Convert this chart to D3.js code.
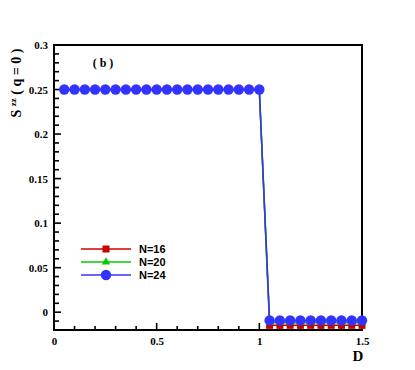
<!DOCTYPE html>
<html>
<head>
<meta charset="utf-8">
<script src="https://cdn.jsdelivr.net/npm/d3@7"></script>
<style>
  body { margin: 0; background: #fff; color: #000; }
  .tick-label { font-family: "Liberation Serif", "Times New Roman", serif; font-weight: bold; font-size: 11px; }
</style>
</head>
<body>
<div id="chart"></div>
<script>
// D values
var dLow = [0.05, 0.1, 0.15, 0.2, 0.25, 0.3, 0.35, 0.4, 0.45, 0.5, 0.55, 0.6, 0.65, 0.7, 0.75, 0.8, 0.85, 0.9, 0.95, 1.0];
var dHigh = [1.05, 1.1, 1.15, 1.2, 1.25, 1.3, 1.35, 1.4, 1.45, 1.5];

// S^zz(q=0) for each system size
var n16 = [0.25, 0.25, 0.25, 0.25, 0.25, 0.25, 0.25, 0.25, 0.25, 0.25, 0.25, 0.25, 0.25, 0.25, 0.25, 0.25, 0.25, 0.25, 0.25, 0.249,
           -0.0148, -0.0148, -0.0148, -0.0148, -0.0148, -0.0148, -0.0148, -0.0148, -0.0148, -0.0148];
var n20 = [0.25, 0.25, 0.25, 0.25, 0.25, 0.25, 0.25, 0.25, 0.25, 0.25, 0.25, 0.25, 0.25, 0.25, 0.25, 0.25, 0.25, 0.25, 0.25, 0.25,
           -0.0118, -0.0118, -0.0118, -0.0118, -0.0118, -0.0118, -0.0118, -0.0118, -0.0118, -0.0118];
var n24 = [0.25, 0.25, 0.25, 0.25, 0.25, 0.25, 0.25, 0.25, 0.25, 0.25, 0.25, 0.25, 0.25, 0.25, 0.25, 0.25, 0.25, 0.25, 0.25, 0.25,
           -0.0092, -0.0092, -0.0092, -0.0092, -0.0092, -0.0092, -0.0092, -0.0092, -0.0092, -0.0092];

var seriesNames = ["N=16", "N=20", "N=24"];
var seriesColors = ["#cc0000", "#00cc00", "#3333ff"];
var seriesMarkers = ["square", "triangle", "circle"];

var xTicks = [0, 0.5, 1, 1.5];
var xTickLabels = ["0", "0.5", "1", "1.5"];
var yTicks = [0, 0.05, 0.1, 0.15, 0.2, 0.25, 0.3];
var yTickLabels = ["0", "0.05", "0.1", "0.15", "0.2", "0.25", "0.3"];

var width = 415, height = 370;
var margin = { top: 45, right: 53, bottom: 40, left: 54 };
var w = width - margin.left - margin.right;
var h = height - margin.top - margin.bottom;

var svg = d3.select("#chart").append("svg").attr("width", width).attr("height", height);
var g = svg.append("g").attr("transform", "translate(" + margin.left + "," + margin.top + ")");

var x = d3.scaleLinear().domain([0, 1.5]).range([0, w]);
var y = d3.scaleLinear().domain([-0.02, 0.3]).range([h, 0]);

var dAll = dLow.concat(dHigh);
var allSeries = [n16, n20, n24].map(function (vals, i) {
    return {
        name: seriesNames[i],
        color: seriesColors[i],
        marker: seriesMarkers[i],
        points: vals.map(function (v, j) { return { d: dAll[j], v: v }; })
    };
});

// tick labels via d3 axes
g.append("g")
    .attr("transform", "translate(0," + h + ")")
    .call(d3.axisBottom(x).tickValues(xTicks).tickSize(0).tickPadding(7)
        .tickFormat(function (d, i) { return xTickLabels[i]; }))
    .call(function (a) {
        a.select(".domain").remove();
        a.selectAll("text").attr("class", "tick-label").attr("fill", "#000");
    });
g.append("g")
    .call(d3.axisLeft(y).tickValues(yTicks).tickSize(0).tickPadding(6)
        .tickFormat(function (d, i) { return yTickLabels[i]; }))
    .call(function (a) {
        a.select(".domain").remove();
        a.selectAll("text").attr("class", "tick-label").attr("fill", "#000");
    });

// inward ticks, minor and major
var xMinor = d3.range(0, 16).map(function (i) { return i / 10; });
var yMinor = d3.range(-2, 31).map(function (i) { return i / 100; });
function xLen(d) { return Math.abs(d * 2 - Math.round(d * 2)) < 1e-6 ? 7 : 4; }
function yLen(d) { return Math.abs(d * 20 - Math.round(d * 20)) < 1e-6 ? 7 : 5; }

g.selectAll(".xtick").data(xMinor).enter().append("rect")
    .attr("class", "xtick")
    .attr("x", function (d) { return x(d) - 0.8; }).attr("width", 1.6)
    .attr("y", function (d) { return h - xLen(d); }).attr("height", function (d) { return xLen(d); })
    .attr("fill", "#000");

g.selectAll(".ytick").data(yMinor).enter().append("rect")
    .attr("class", "ytick")
    .attr("x", 0).attr("width", function (d) { return yLen(d); })
    .attr("y", function (d) { return y(d) - 0.8; }).attr("height", 1.6)
    .attr("fill", "#000");

// frame
g.append("rect")
    .attr("x", 0).attr("y", 0).attr("width", w).attr("height", h)
    .attr("fill", "none").attr("stroke", "#000").attr("stroke-width", 2);

var line = d3.line().x(function (d) { return x(d.d); }).y(function (d) { return y(d.v); });

function drawMarker(sel, marker, color, cx, cy) {
    if (marker === "square") {
        sel.append("rect").attr("x", cx - 3.5).attr("y", cy - 3.5).attr("width", 7).attr("height", 7).attr("fill", color);
    } else if (marker === "triangle") {
        sel.append("path").attr("d", d3.symbol(d3.symbolTriangle, 30)()).attr("transform", "translate(" + cx + "," + cy + ")").attr("fill", color);
    } else {
        sel.append("circle").attr("cx", cx).attr("cy", cy).attr("r", 5.2).attr("fill", color);
    }
}

allSeries.forEach(function (s) {
    var sg = g.append("g");
    sg.append("path").datum(s.points)
        .attr("d", line).attr("fill", "none").attr("stroke", s.color).attr("stroke-width", 1.5);
    s.points.forEach(function (p) { drawMarker(sg, s.marker, s.color, x(p.d), y(p.v)); });
});

// legend
var legend = svg.append("g").attr("transform", "translate(81,249)");
allSeries.forEach(function (s, i) {
    var ly = i * 13;
    legend.append("line").attr("x1", 0).attr("x2", 50).attr("y1", ly).attr("y2", ly)
        .attr("stroke", s.color).attr("stroke-width", 1.5);
    drawMarker(legend, s.marker, s.color, 25, ly);
    legend.append("text").attr("x", 58).attr("y", ly + 4)
        .style("font-family", "Liberation Sans, Arial, sans-serif").style("font-weight", "bold").style("font-size", "11px")
        .text(s.name);
});

// panel label
svg.append("text").attr("x", 103).attr("y", 67).attr("text-anchor", "middle")
    .style("font-family", "Liberation Serif, serif").style("font-weight", "bold").style("font-size", "12px")
    .text("( b )");

// axis titles
var yt = svg.append("text").attr("transform", "translate(21,83) rotate(-90)").attr("text-anchor", "middle")
    .style("font-family", "Liberation Serif, serif").style("font-weight", "bold").style("font-size", "14px");
yt.append("tspan").text("S ");
yt.append("tspan").attr("dy", -5).style("font-size", "9px").text("zz");
yt.append("tspan").attr("dy", 5).text(" ( q = 0 )");

svg.append("text").attr("x", 358).attr("y", 361).attr("text-anchor", "middle")
    .style("font-family", "Liberation Serif, serif").style("font-weight", "bold").style("font-size", "15px")
    .text("D");
</script>
</body>
</html>
